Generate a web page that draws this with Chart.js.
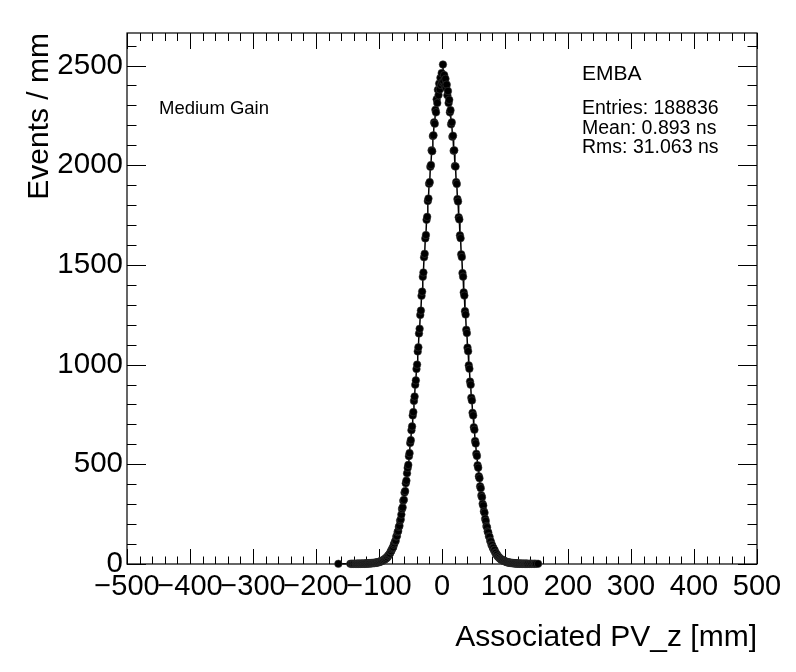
<!DOCTYPE html>
<html>
<head>
  <meta charset="UTF-8" />
  <title>Associated PV_z</title>
  <script src="https://cdn.jsdelivr.net/npm/chart.js"></script>
  <style>
    body {
      margin: 0;
      background: #fff;
    }

    canvas {
      display: block;
    }
  </style>
</head>

<body>
  <canvas id="c" width="796" height="672"></canvas>

  <script>
    // bin centres start here, 1 mm bins
    const firstBinCenter = -164.5;
    // events per bin, x = -165 ... 154 mm
    const counts = [
      1, 0, 0, 0, 0, 0, 0, 0, 0, 0,
      0, 0, 0, 0, 0, 0, 0, 0, 0, 1,
      0, 1, 1, 0, 1, 1, 0, 1, 1, 1,
      1, 2, 1, 1, 2, 1, 1, 2, 2, 1,
      2, 1, 2, 2, 3, 2, 3, 3, 2, 4,
      3, 4, 3, 5, 4, 5, 6, 4, 6, 7,
      6, 8, 7, 9, 10, 9, 13, 12, 15, 14,
      16, 20, 19, 24, 23, 29, 28, 35, 34, 42,
      44, 50, 53, 63, 65, 74, 80, 84, 97, 104,
      114, 117, 138, 140, 160, 165, 186, 192, 217, 224,
      248, 276, 284, 317, 322, 358, 366, 405, 418, 455,
      482, 497, 541, 556, 607, 621, 671, 690, 745, 762,
      818, 840, 899, 921, 978, 1000, 1066, 1087, 1156, 1180,
      1249, 1271, 1345, 1366, 1440, 1462, 1538, 1556, 1633, 1650,
      1726, 1741, 1820, 1833, 1907, 1915, 1992, 2001, 2075, 2070,
      2146, 2150, 2215, 2208, 2278, 2265, 2331, 2312, 2378, 2352,
      2410, 2380, 2438, 2402, 2462, 2415, 2505, 2420, 2452, 2398,
      2433, 2388, 2404, 2351, 2372, 2312, 2328, 2265, 2276, 2205,
      2215, 2143, 2148, 2072, 2075, 1996, 1993, 1915, 1906, 1830,
      1818, 1739, 1728, 1648, 1634, 1553, 1539, 1459, 1441, 1362,
      1346, 1268, 1251, 1175, 1158, 1085, 1067, 996, 979, 915,
      899, 834, 820, 758, 745, 686, 673, 617, 604, 553,
      542, 495, 483, 440, 430, 390, 380, 344, 335, 302,
      293, 264, 257, 227, 216, 190, 184, 163, 158, 139,
      136, 116, 113, 97, 95, 82, 81, 69, 70, 57,
      56, 46, 47, 38, 37, 31, 31, 25, 25, 20,
      21, 17, 18, 14, 15, 12, 12, 11, 8, 9,
      7, 8, 6, 6, 5, 6, 4, 5, 4, 3,
      4, 3, 2, 3, 3, 2, 2, 1, 2, 2,
      1, 2, 1, 1, 2, 1, 1, 1, 2, 1,
      1, 1, 0, 1, 1, 0, 1, 1, 0, 1,
      0, 1, 1, 0, 1, 0, 0, 1, 0, 0
    ];

    const xTicks = [-500, -400, -300, -200, -100, 0, 100, 200, 300, 400, 500];
    const yTicks = [0, 500, 1000, 1500, 2000, 2500];

    const xMin = -500, xMax = 500, xMajor = 100, xMinor = 20;
    const yMin = 0, yMax = 2663, yMajor = 500, yMinor = 100;

    const statLines = ["Entries: 188836", "Mean: 0.893 ns", "Rms: 31.063 ns"];

    const points = counts
      .map((c, i) => ({ x: firstBinCenter + i, y: c }))
      .filter(p => p.y > 0);

    const FONT = "'Liberation Sans', Helvetica, Arial, sans-serif";

    function minusLabel(v) {
      return v < 0 ? "\u2212" + Math.abs(v) : String(v);
    }

    // ROOT style frame with inward ticks on all four sides
    const rootFrame = {
      id: "rootFrame",
      beforeDatasetsDraw(chart) {
        const { ctx, chartArea: a, scales: { x, y } } = chart;
        ctx.save();
        ctx.strokeStyle = "#000";
        ctx.lineWidth = 1.2;
        ctx.strokeRect(a.left, a.top, a.right - a.left, a.bottom - a.top);
        ctx.lineWidth = 1;
        ctx.beginPath();
        for (let v = xMin; v <= xMax; v += xMinor) {
          const px = Math.round(x.getPixelForValue(v)) + 0.5;
          const major = v % xMajor === 0;
          ctx.moveTo(px, a.bottom);
          ctx.lineTo(px, a.bottom - (major ? 15 : 7.5));
          ctx.moveTo(px, a.top);
          ctx.lineTo(px, a.top + (major ? 16 : 8));
        }
        for (let v = yMin; v <= yMax; v += yMinor) {
          const py = Math.round(y.getPixelForValue(v)) + 0.5;
          const major = v % yMajor === 0;
          ctx.moveTo(a.left, py);
          ctx.lineTo(a.left + (major ? 19 : 9.5), py);
          ctx.moveTo(a.right, py);
          ctx.lineTo(a.right - (major ? 19 : 9.5), py);
        }
        ctx.stroke();
        ctx.restore();
      },
      afterDraw(chart) {
        const ctx = chart.ctx;
        ctx.save();
        ctx.fillStyle = "#000";
        ctx.textAlign = "left";
        ctx.textBaseline = "alphabetic";
        ctx.font = "18.5px " + FONT;
        ctx.fillText("Medium Gain", 159, 114);
        ctx.font = "21px " + FONT;
        ctx.fillText("EMBA", 582, 80);
        ctx.font = "19.5px " + FONT;
        statLines.forEach((t, i) => ctx.fillText(t, 582, 114 + i * 19.5));
        ctx.restore();
      }
    };

    new Chart(document.getElementById("c"), {
      type: "scatter",
      data: {
        datasets: [{
          data: points,
          showLine: true,
          borderColor: "#000",
          borderWidth: 1.5,
          pointRadius: 3.8,
          pointBackgroundColor: "#000",
          pointBorderColor: "rgba(60,60,60,0.9)",
          pointBorderWidth: 0.6,
          clip: false
        }]
      },
      options: {
        responsive: false,
        animation: false,
        devicePixelRatio: 1,
        layout: { padding: { top: 33, right: 39, left: 0, bottom: 0 } },
        plugins: { legend: { display: false }, tooltip: { enabled: false } },
        scales: {
          x: {
            type: "linear",
            min: xMin,
            max: xMax,
            grid: { display: false, drawTicks: false },
            border: { display: false },
            afterFit: s => { s.height = 108; },
            afterBuildTicks: s => { s.ticks = xTicks.map(v => ({ value: v })); },
            ticks: {
              autoSkip: false,
              maxRotation: 0,
              padding: 6,
              color: "#000",
              font: { family: FONT, size: 29 },
              callback: v => minusLabel(v)
            },
            title: {
              display: true,
              text: "Associated PV_z [mm]",
              align: "end",
              color: "#000",
              font: { family: FONT, size: 30 },
              padding: { top: 0, bottom: 16 }
            }
          },
          y: {
            type: "linear",
            min: yMin,
            max: yMax,
            grid: { display: false, drawTicks: false },
            border: { display: false },
            afterFit: s => { s.width = 127; },
            afterBuildTicks: s => { s.ticks = yTicks.map(v => ({ value: v })); },
            ticks: {
              autoSkip: false,
              padding: 4,
              color: "#000",
              font: { family: FONT, size: 29.5 },
              callback: v => minusLabel(v)
            },
            title: {
              display: true,
              text: "Events / mm",
              align: "end",
              color: "#000",
              font: { family: FONT, size: 30 },
              padding: { top: 22, bottom: 0 }
            }
          }
        }
      },
      plugins: [rootFrame]
    });
  </script>
</body>

</html>
